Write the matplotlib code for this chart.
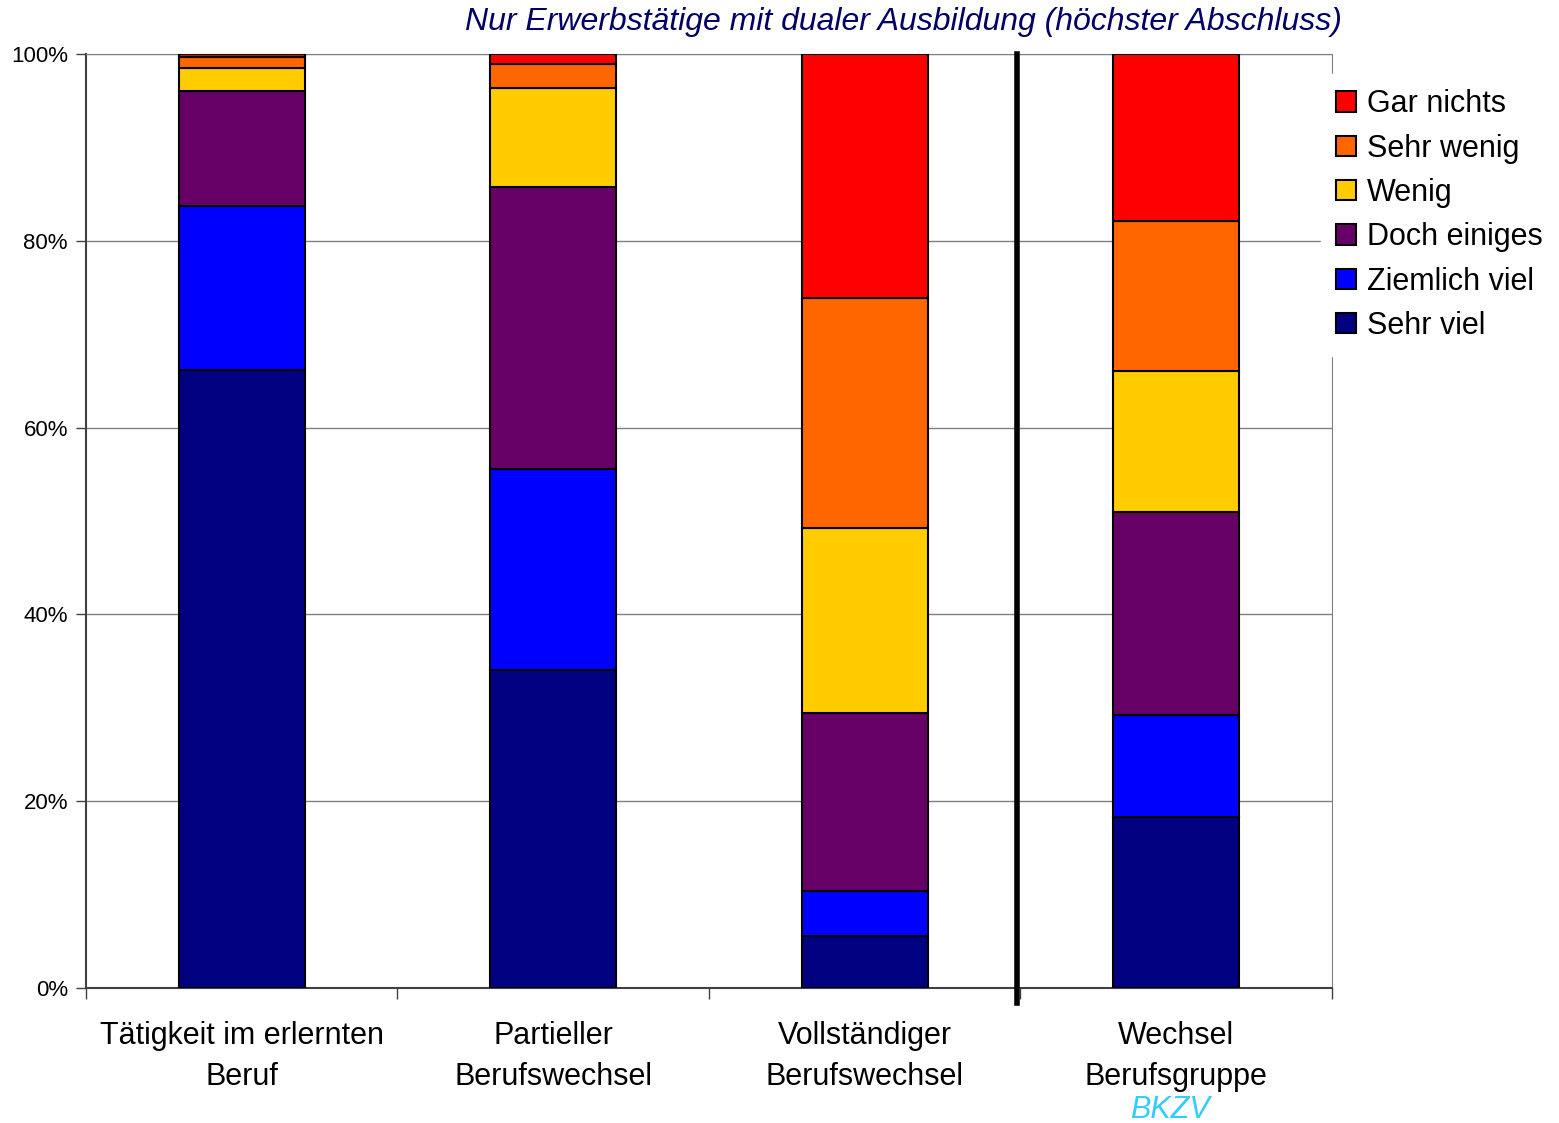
import matplotlib.pyplot as plt
import numpy as np

plt.rcParams['font.family'] = ['Liberation Sans', 'DejaVu Sans']

categories = ['Tätigkeit im erlernten\nBeruf', 'Partieller\nBerufswechsel',
              'Vollständiger\nBerufswechsel', 'Wechsel\nBerufsgruppe']
levels = ['Sehr viel', 'Ziemlich viel', 'Doch einiges', 'Wenig', 'Sehr wenig', 'Gar nichts']
colors = ['#000080', '#0000FF', '#660066', '#FFCC00', '#FF6600', '#FF0000']

# percent per category, bottom to top
sehr_viel = [66.2, 34.0, 5.6, 18.3]
ziemlich_viel = [17.5, 21.6, 4.8, 10.9]
doch_einiges = [12.3, 30.2, 19.0, 21.8]
wenig = [2.5, 10.6, 19.9, 15.1]
sehr_wenig = [1.2, 2.5, 24.6, 16.0]
gar_nichts = [0.3, 1.1, 26.1, 17.9]
series = [sehr_viel, ziemlich_viel, doch_einiges, wenig, sehr_wenig, gar_nichts]

fig = plt.figure(figsize=(15.59, 11.23), dpi=100)
ax = fig.add_axes([86/1559, 1 - 988/1123, (1332-86)/1559, (988-54)/1123])

x = np.arange(len(categories))
bottom = np.zeros(len(categories))
handles = []
for vals, lab, col in zip(series, levels, colors):
    b = ax.bar(x, vals, 0.405, bottom=bottom, color=col, edgecolor='black',
               linewidth=1.5, label=lab, zorder=3)
    handles.append(b)
    bottom += np.array(vals)

ax.set_xlim(-0.5, len(categories) - 0.5)
ax.set_ylim(0, 100)
ax.set_yticks(range(0, 101, 20))
ax.set_yticklabels([f'{v}%' for v in range(0, 101, 20)], fontsize=16)
ax.yaxis.grid(True, color='#808080', linewidth=1, zorder=0)

ax.set_xticks(x)
ax.set_xticklabels(categories, fontsize=22, linespacing=1.45)
ax.tick_params(axis='x', length=0, pad=24)
ax.set_xticks(np.arange(-0.5, len(categories), 1), minor=True)
ax.tick_params(axis='x', which='minor', length=8, color='#404040', width=1)
ax.tick_params(axis='y', length=7, color='#404040', width=1, pad=6)

for s in ['top', 'right']:
    ax.spines[s].set_color('#808080')
for s in ['left', 'bottom']:
    ax.spines[s].set_color('#404040')
    ax.spines[s].set_linewidth(1.5)

# separator between the first three groups and the last one
ax.axvline(2.49, ymin=-0.016, ymax=1, color='black', linewidth=4, clip_on=False, zorder=4)

ax.text(2.98, -13.1, 'BKZV', color='#33CCFF', fontsize=22, style='italic',
        ha='center', va='center')

fig.text(903/1559, 1 - 22/1123, 'Nur Erwerbstätige mit dualer Ausbildung (höchster Abschluss)',
         color='#000066', fontsize=23, style='italic', ha='center', va='center')

leg = ax.legend(handles[::-1], levels[::-1], loc='upper left',
                bbox_to_anchor=(0.979, 0.995), fontsize=22, frameon=True,
                fancybox=False, edgecolor='white', framealpha=1,
                handlelength=0.65, handleheight=0.65, handletextpad=0.35,
                labelspacing=0.47, borderpad=0.5)
leg.set_zorder(10)

fig.savefig('out.png', dpi=100)
